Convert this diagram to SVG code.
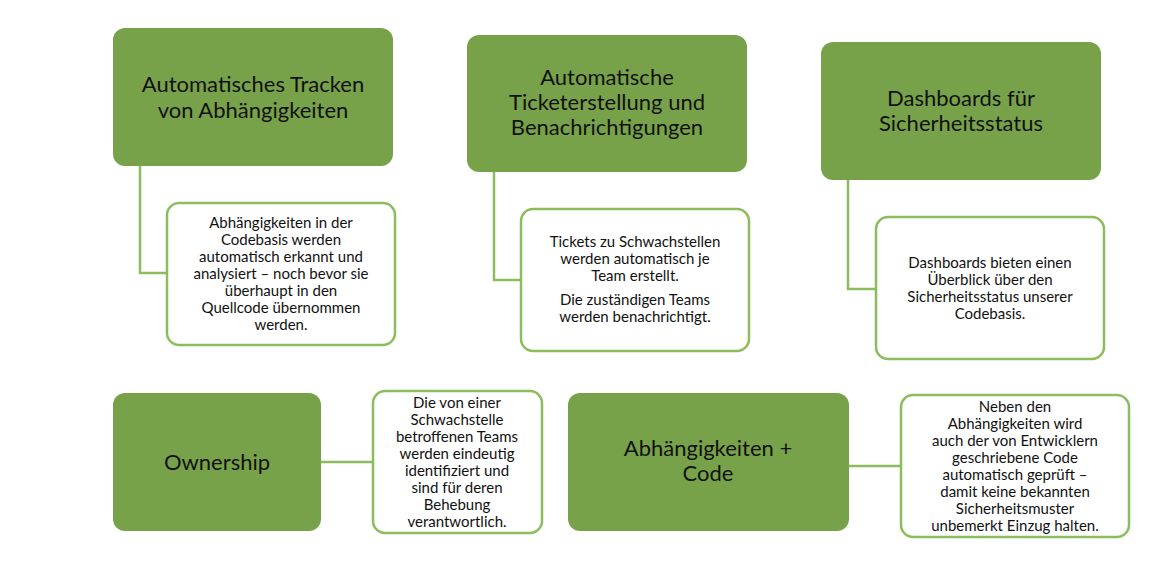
<svg xmlns="http://www.w3.org/2000/svg" width="1150" height="562" viewBox="0 0 1150 562">
<style>
.m{fill:#78a24a}
.c{fill:#fff;stroke:#8bbd5c;stroke-width:2.5}
.l{fill:none;stroke:#8bbd5c;stroke-width:2.5}
.t{font-family:Lato,"Open Sans",sans-serif;font-size:22px;fill:#111;text-anchor:middle}
.b{font-family:Lato,"Open Sans",sans-serif;font-size:15px;fill:#111;text-anchor:middle}
</style>
<rect width="1150" height="562" fill="#fff"/>
<g id="connectors">
<path class="l" d="M140 166V273H167"/>
<path class="l" d="M494 172V280H521"/>
<path class="l" d="M848 180V289H876"/>
<path class="l" d="M321 462H373"/>
<path class="l" d="M849 466H901"/>
</g>
<g id="n1"><rect class="m" x="113" y="28" width="280" height="138" rx="12"/>
<text class="t" x="253" y="92">Automatisches Tracken</text><text class="t" x="253" y="118">von Abhängigkeiten</text></g>
<g id="n1c"><rect class="c" x="167" y="203" width="228" height="142" rx="12"/>
<text class="b" x="281" y="228">Abhängigkeiten in der</text><text class="b" x="281" y="245">Codebasis werden</text><text class="b" x="281" y="262">automatisch erkannt und</text><text class="b" x="281" y="279">analysiert – noch bevor sie</text><text class="b" x="281" y="296">überhaupt in den</text><text class="b" x="281" y="313">Quellcode übernommen</text><text class="b" x="281" y="330">werden.</text></g>
<g id="n2"><rect class="m" x="467" y="35" width="280" height="137" rx="12"/>
<text class="t" x="607" y="85">Automatische</text><text class="t" x="607" y="110">Ticketerstellung und</text><text class="t" x="607" y="135">Benachrichtigungen</text></g>
<g id="n2c"><rect class="c" x="521" y="209" width="228" height="142" rx="12"/>
<text class="b" x="635" y="247">Tickets zu Schwachstellen</text><text class="b" x="635" y="264">werden automatisch je</text><text class="b" x="635" y="281">Team erstellt.</text><text class="b" x="635" y="305">Die zuständigen Teams</text><text class="b" x="635" y="322">werden benachrichtigt.</text></g>
<g id="n3"><rect class="m" x="821" y="42" width="280" height="138" rx="12"/>
<text class="t" x="961" y="106">Dashboards für</text><text class="t" x="961" y="131">Sicherheitsstatus</text></g>
<g id="n3c"><rect class="c" x="876" y="217" width="228" height="142" rx="12"/>
<text class="b" x="990" y="268">Dashboards bieten einen</text><text class="b" x="990" y="285">Überblick über den</text><text class="b" x="990" y="302">Sicherheitsstatus unserer</text><text class="b" x="990" y="319">Codebasis.</text></g>
<g id="n4"><rect class="m" x="113" y="393" width="208" height="138" rx="12"/>
<text class="t" x="217" y="470">Ownership</text></g>
<g id="n4c"><rect class="c" x="373" y="391" width="169" height="142" rx="12"/>
<text class="b" x="457" y="408">Die von einer</text><text class="b" x="457" y="425">Schwachstelle</text><text class="b" x="457" y="442">betroffenen Teams</text><text class="b" x="457" y="459">werden eindeutig</text><text class="b" x="457" y="476">identifiziert und</text><text class="b" x="457" y="493">sind für deren</text><text class="b" x="457" y="510">Behebung</text><text class="b" x="457" y="527">verantwortlich.</text></g>
<g id="n5"><rect class="m" x="568" y="393" width="281" height="138" rx="12"/>
<text class="t" x="708" y="456">Abhängigkeiten +</text><text class="t" x="708" y="481">Code</text></g>
<g id="n5c"><rect class="c" x="901" y="395" width="228" height="142" rx="12"/>
<text class="b" x="1015" y="412">Neben den</text><text class="b" x="1015" y="429">Abhängigkeiten wird</text><text class="b" x="1015" y="446">auch der von Entwicklern</text><text class="b" x="1015" y="463">geschriebene Code</text><text class="b" x="1015" y="480">automatisch geprüft –</text><text class="b" x="1015" y="497">damit keine bekannten</text><text class="b" x="1015" y="514">Sicherheitsmuster</text><text class="b" x="1015" y="531">unbemerkt Einzug halten.</text></g>
</svg>
